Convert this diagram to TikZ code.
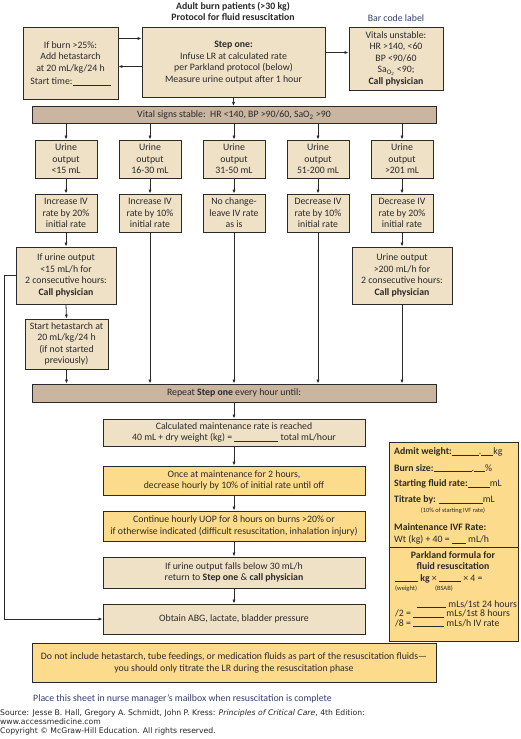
\documentclass[tikz,border=0pt]{standalone}
\usepackage{fontspec}
\setmainfont{Carlito}
\newfontfamily\srcfont{DejaVu Sans}
\usetikzlibrary{arrows.meta}
\definecolor{tanfill}{HTML}{EFE1C6}
\definecolor{barfill}{HTML}{C9B5A0}
\definecolor{yelfill}{HTML}{FDDB8C}
\definecolor{ink}{HTML}{2A2A2A}
\definecolor{navy}{HTML}{34406A}
\newcommand\myblank[1]{\rule[-0.8pt]{#1}{0.5pt}}
\begin{document}
\begin{tikzpicture}[x=1pt,y=-1pt,
  font=\fontsize{9.8}{11.5}\selectfont,
  box/.style={draw=ink, fill=tanfill, line width=0.9pt, align=center, inner sep=0pt, text=ink},
  barbox/.style={box, fill=barfill},
  yelbox/.style={box, fill=yelfill},
  arr/.style={draw=ink, line width=0.8pt, -{Latex[length=4pt,width=3.2pt]}},
  plain/.style={draw=ink, line width=0.8pt},
  lbl/.style={text=ink, inner sep=0pt}]
\useasboundingbox (0,0) rectangle (520,739);
\fill[white] (0,0) rectangle (520,739);

% title
\node[lbl, font=\fontsize{9.8}{11.2}\selectfont\bfseries, align=center] (title) at (233,11) {Adult burn patients (>30 kg)\\Protocol for fluid resuscitation};

% top row
\node[box, minimum width=95pt, minimum height=72pt] (burn) at (70.5,63.5)
 {If burn >25\%:\\Add hetastarch\\at 20 mL/kg/24 h\\[2pt]Start time:\myblank{38pt}};
\node[box, minimum width=183pt, minimum height=70pt] (step) at (233.5,62.5)
 {\textbf{Step one:}\\Infuse LR at calculated rate\\per Parkland protocol (below)\\Measure urine output after 1 hour};
\node[box, minimum width=94pt, minimum height=63pt] (vit) at (396,58.5)
 {Vitals unstable:\\HR >140, <60\\BP <90/60\\Sa\textsubscript{O\textsubscript{2}} <90;\\\textbf{Call physician}};
\node[lbl, text=navy] (barcode) at (396,18) {Bar code label};

\draw[arr] ([yshift=25pt]burn.east) -- ([yshift=25pt]burn.east -| step.west);
\draw[arr] ([yshift=-4pt]step.west) -- ([yshift=-4pt]step.west -| burn.east);
\draw[arr] ([yshift=10pt]step.east) -- ([yshift=10pt]step.east -| vit.west);

% vital signs bar
\node[barbox, minimum width=404pt, minimum height=17pt] (vs) at (234,115)
 {Vital signs stable:\ \ HR <140, BP >90/60, SaO\textsubscript{2} >90};
\draw[arr] (step.south) -- (step.south |- vs.north);

% columns
\foreach \i/\x/\ta/\tb in {1/66/{Urine\\output\\<15 mL}/{Increase IV\\rate by 20\%\\initial rate},
                          2/150/{Urine\\output\\16-30 mL}/{Increase IV\\rate by 10\%\\initial rate},
                          3/234/{Urine\\output\\31-50 mL}/{No change-\\leave IV rate\\as is},
                          4/318/{Urine\\output\\51-200 mL}/{Decrease IV\\rate by 10\%\\initial rate},
                          5/402/{Urine\\output\\>201 mL}/{Decrease IV\\rate by 20\%\\initial rate}}{
  \node[box, minimum width=62pt, minimum height=38pt] (u\i) at (\x,159) {\ta};
  \node[box, minimum width=62pt, minimum height=38pt] (r\i) at (\x,213) {\tb};
  \draw[arr] (u\i.north |- vs.south) -- (u\i.north);
  \draw[arr] (u\i.south) -- (r\i.north);
}

\node[box, minimum width=100pt, minimum height=57pt] (c1) at (66,275.5)
 {If urine output\\<15 mL/h for\\2 consecutive hours:\\\textbf{Call physician}};
\node[box, minimum width=100pt, minimum height=57pt] (c5) at (402,275.5)
 {Urine output\\>200 mL/h for\\2 consecutive hours:\\\textbf{Call physician}};
\node[box, minimum width=83pt, minimum height=50pt] (h1) at (66.5,344)
 {Start hetastarch at\\20 mL/kg/24 h\\(if not started\\previously)};

\node[barbox, minimum width=404pt, minimum height=18pt] (rep) at (234,393)
 {Repeat \textbf{Step one} every hour until:};

\draw[arr] (r1.south) -- (c1.north);
\draw[arr] (c1.south) -- (h1.north);
\draw[arr] (h1.south) -- (h1.south |- rep.north);
\draw[arr] (r2.south) -- (r2.south |- rep.north);
\draw[arr] (r3.south) -- (r3.south |- rep.north);
\draw[arr] (r4.south) -- (r4.south |- rep.north);
\draw[arr] (r5.south) -- (c5.north);
\draw[arr] (c5.south) -- (c5.south |- rep.north);

% lower chain
\node[box, minimum width=262pt, minimum height=27pt] (calc) at (234,432.5)
 {Calculated maintenance rate is reached\\40 mL + dry weight (kg) = \myblank{44pt} total mL/hour};
\node[yelbox, minimum width=262pt, minimum height=29pt] (once) at (234,480.5)
 {Once at maintenance for 2 hours,\\decrease hourly by 10\% of initial rate until off};
\node[yelbox, minimum width=262pt, minimum height=30pt] (cont) at (234,526)
 {Continue hourly UOP for 8 hours on burns >20\% or\\if otherwise indicated (difficult resuscitation, inhalation injury)};
\node[box, minimum width=262pt, minimum height=31pt] (falls) at (234,572.5)
 {If urine output falls below 30 mL/h\\return to \textbf{Step one} \& \textbf{call physician}};
\node[box, minimum width=262pt, minimum height=30pt] (abg) at (234,619)
 {Obtain ABG, lactate, bladder pressure};

\draw[arr] (rep.south) -- (calc.north);
\draw[arr] (calc.south) -- (once.north);
\draw[arr] (once.south) -- (cont.north);
\draw[arr] (cont.south) -- (falls.north);
\draw[arr] (falls.south) -- (abg.north);

\coordinate (lx) at (4,0);
\draw[arr] (c1.west) -- (c1.west -| lx) |- (abg.west);

% bottom note
\node[yelbox, minimum width=404pt, minimum height=39pt, font=\fontsize{9.8}{12}\selectfont] (note) at (234,663)
 {Do not include hetastarch, tube feedings, or medication fluids as part of the resuscitation fluids---\\you should only titrate the LR during the resuscitation phase};
\node[lbl, text=navy, anchor=west] (place) at (33,699)
 {Place this sheet in nurse manager's mailbox when resuscitation is complete};

% right panel
\node[yelbox, minimum width=129pt, minimum height=199pt] (panel) at (453.5,541.5) {};
\draw[plain] (panel.west |- 0,547) -- (panel.east |- 0,547);
\begin{scope}[every node/.style={lbl, anchor=west}]
\node (p1) at (394,452) {\textbf{Admit weight:}\myblank{27pt}.\myblank{12pt}kg};
\node (p2) at (394,468) {\textbf{Burn size:}\myblank{38pt}.\myblank{11pt}\%};
\node (p3) at (394,484) {\textbf{Starting fluid rate:}\myblank{22pt}mL};
\node (p4) at (394,500) {\textbf{Titrate by:} \myblank{44pt}mL};
\node (p6) at (394,527) {\textbf{Maintenance IVF Rate:}};
\node (p7) at (394,539.5) {Wt (kg) + 40 = \myblank{14pt} mL/h};
\node (q1) at (395,578.5) {\myblank{23pt} \textbf{kg} × \myblank{22pt} × 4 =};
\node[font=\fontsize{6.5}{7}\selectfont] (q2) at (395,588.5) {(weight)\hspace{18pt}(BSAB)};
\node (q3) at (417,604) {\myblank{29pt} mLs/1st 24 hours};
\node (q4) at (395,613.5) {/2 = \myblank{31pt} mLs/1st 8 hours};
\node (q5) at (395,623) {/8 = \myblank{31pt} mLs/h IV rate};
\end{scope}
\node[lbl, font=\fontsize{6.4}{7}\selectfont] (p5) at (453,511) {(10\% of starting IVF rate)};
\node[lbl, align=center, font=\fontsize{9.8}{10.8}\selectfont\bfseries] (pk) at (453,560.5) {Parkland formula for\\fluid resuscitation};

% source
\begin{scope}[every node/.style={inner sep=0pt, anchor=west, text=black!85, font=\srcfont\fontsize{7.7}{9}\selectfont}]
\node (s1) at (0,713) {Source: Jesse B. Hall, Gregory A. Schmidt, John P. Kress: \textit{Principles of Critical Care}, 4th Edition:};
\node (s2) at (0,722) {www.accessmedicine.com};
\node (s3) at (0,731) {Copyright © McGraw-Hill Education. All rights reserved.};
\end{scope}
\end{tikzpicture}
\end{document}
